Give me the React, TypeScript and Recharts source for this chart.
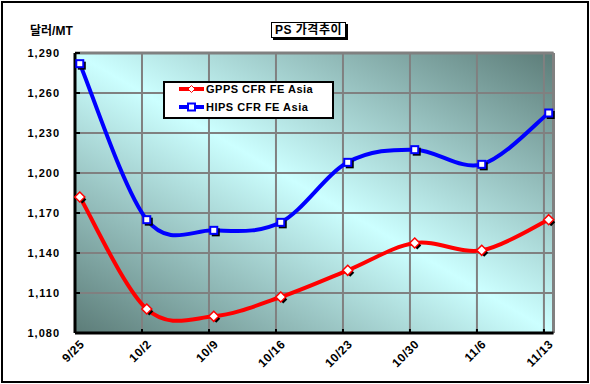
import React from 'react';
import { LineChart, Line, XAxis, YAxis, CartesianGrid, Legend, ReferenceLine } from 'recharts';

const categories = ['9/25', '10/2', '10/9', '10/16', '10/23', '10/30', '11/6', '11/13'];
const gppsValues = [1182, 1098, 1092.5, 1107, 1127, 1147.5, 1142, 1165];
const hipsValues = [1282, 1165, 1157, 1163, 1208, 1217.5, 1206.5, 1245];
const yTicks = [1080, 1110, 1140, 1170, 1200, 1230, 1260, 1290];
const seriesNames = ['GPPS CFR FE Asia', 'HIPS CFR FE Asia'];
const titleText = 'PS 가격추이';
const unitText = '달러/MT';

const FONT = '"Liberation Sans", Arial, "Noto Sans CJK KR", sans-serif';
const STEP = 7; // days between categories on the date axis
const data = categories.map((c, i) => ({
  day: i * STEP + 0.5,
  label: c,
  gpps: gppsValues[i],
  hips: hipsValues[i],
}));
const xTicks = categories.map((_, i) => i * STEP);

// Excel-like smoothing (uniform Catmull-Rom as cubic Bezier)
const excelCurve = (context: any) => {
  let pts: number[][] = [];
  return {
    areaStart() {},
    areaEnd() {},
    lineStart() {
      pts = [];
    },
    lineEnd() {
      const n = pts.length;
      if (n === 0) return;
      context.moveTo(pts[0][0], pts[0][1]);
      for (let i = 0; i < n - 1; i++) {
        const p0 = pts[Math.max(0, i - 1)];
        const p1 = pts[i];
        const p2 = pts[i + 1];
        const p3 = pts[Math.min(n - 1, i + 2)];
        context.bezierCurveTo(
          p1[0] + (p2[0] - p0[0]) / 6,
          p1[1] + (p2[1] - p0[1]) / 6,
          p2[0] - (p3[0] - p1[0]) / 6,
          p2[1] - (p3[1] - p1[1]) / 6,
          p2[0],
          p2[1]
        );
      }
    },
    point(x: number, y: number) {
      pts.push([+x, +y]);
    },
  };
};

const SquareDot = (props: any) => {
  const { cx, cy, index } = props;
  if (cx == null || cy == null) return null;
  return (
    <g key={`sq-${index}`}>
      <rect x={cx - 2} y={cy - 2} width={8} height={8} fill="#000" />
      <rect x={cx - 3.5} y={cy - 3.5} width={7} height={7} fill="#fff" stroke="#0000FF" strokeWidth={2} />
    </g>
  );
};

const DiamondDot = (props: any) => {
  const { cx, cy, index } = props;
  if (cx == null || cy == null) return null;
  const d = (x: number, y: number, r: number) => `M${x},${y - r}L${x + r},${y}L${x},${y + r}L${x - r},${y}Z`;
  return (
    <g key={`dm-${index}`}>
      <path d={d(cx + 2.5, cy + 2.5, 4)} fill="#000" />
      <path d={d(cx, cy, 5)} fill="#fff" stroke="#FF0000" strokeWidth={1.5} />
    </g>
  );
};

const XTick = (props: any) => {
  const { x, y, payload } = props;
  const idx = Math.round(payload.value / STEP);
  const ax = x + 10;
  const ay = y + 12;
  return (
    <text
      x={ax}
      y={ay}
      transform={`rotate(-45 ${ax} ${ay})`}
      textAnchor="end"
      fontSize={12}
      fontWeight="bold"
      fontFamily={FONT}
      fill="#000"
      letterSpacing={0.5}
    >
      {categories[idx]}
    </text>
  );
};

const LegendContent = (props: any) => {
  const payload = props.payload || [];
  return (
    <div
      style={{
        position: 'relative',
        width: 171,
        height: 38,
        boxSizing: 'border-box',
        border: '2px solid #000',
        background: '#fff',
      }}
    >
      {payload.map((entry: any, i: number) => {
        const isHips = entry.dataKey === 'hips';
        const color = entry.color;
        return (
          <div
            key={entry.value}
            style={{
              position: 'absolute',
              left: 14,
              top: -3.4 + i * 18.4,
              height: 18,
              display: 'flex',
              alignItems: 'center',
              whiteSpace: 'nowrap',
            }}
          >
            <svg width={25} height={12} style={{ display: 'block' }}>
              <line x1={0} y1={6} x2={25} y2={6} stroke={color} strokeWidth={4} />
              {isHips ? (
                <rect x={9} y={2.5} width={7} height={7} fill="#fff" stroke={color} strokeWidth={2} />
              ) : (
                <path d="M12.5,2.5L16,6L12.5,9.5L9,6Z" fill="#fff" stroke={color} strokeWidth={1} />
              )}
            </svg>
            <span
              style={{
                marginLeft: 2,
                fontSize: 11,
                fontWeight: 'bold',
                fontFamily: FONT,
                letterSpacing: 0.5,
                color: '#000',
                lineHeight: '18px',
              }}
            >
              {entry.value}
            </span>
          </div>
        );
      })}
    </div>
  );
};

export default function App() {
  return (
    <div style={{ position: 'absolute', left: 0, top: 0, width: 590, height: 384, background: '#fff' }}>
      <LineChart width={590} height={384} data={data} margin={{ top: 53, right: 36.5, bottom: 6, left: 0 }}>
        <defs>
          <linearGradient id="plotBg" x1="0" y1="1" x2="1" y2="0">
            <stop offset="0" stopColor="#5C7C78" />
            <stop offset="0.5" stopColor="#CCFFFF" />
            <stop offset="1" stopColor="#5C7C78" />
          </linearGradient>
        </defs>
        <CartesianGrid stroke="#808080" strokeWidth={2} fill="url(#plotBg)" fillOpacity={1} />
        <ReferenceLine y={1290} stroke="#808080" strokeWidth={3} />
        <ReferenceLine x={50} stroke="#808080" strokeWidth={3} />
        <XAxis
          dataKey="day"
          type="number"
          domain={[0, 50]}
          ticks={xTicks}
          interval={0}
          height={45}
          axisLine={{ stroke: '#000', strokeWidth: 3 }}
          tickLine={{ stroke: '#000', strokeWidth: 2 }}
          tickSize={-4}
          tickMargin={4}
          tick={<XTick />}
        />
        <YAxis
          type="number"
          domain={[1080, 1290]}
          ticks={yTicks}
          interval={0}
          width={75}
          axisLine={{ stroke: '#000', strokeWidth: 3 }}
          tickLine={{ stroke: '#000', strokeWidth: 2 }}
          tickSize={-5}
          tickMargin={20}
          tickFormatter={(v: number) => v.toLocaleString('en-US')}
          tick={{ fontSize: 11, fontWeight: 'bold', fill: '#000', fontFamily: FONT, letterSpacing: 1 }}
        />
        <Line
          dataKey="gpps"
          name={seriesNames[0]}
          type={excelCurve as any}
          stroke="#FF0000"
          strokeWidth={4}
          dot={<DiamondDot />}
          activeDot={false}
          isAnimationActive={false}
        />
        <Line
          dataKey="hips"
          name={seriesNames[1]}
          type={excelCurve as any}
          stroke="#0000FF"
          strokeWidth={4}
          dot={<SquareDot />}
          activeDot={false}
          isAnimationActive={false}
        />
        <Legend
          layout="vertical"
          align="center"
          verticalAlign="middle"
          content={<LegendContent />}
          wrapperStyle={{ left: 163, top: 81, width: 171, height: 38 }}
        />
      </LineChart>
      <div
        style={{
          position: 'absolute',
          left: 30,
          top: 23,
          fontSize: 12,
          fontWeight: 'bold',
          fontFamily: FONT,
          lineHeight: '16px',
          color: '#000',
          whiteSpace: 'nowrap',
        }}
      >
        {unitText}
      </div>
      <div
        style={{
          position: 'absolute',
          left: 271,
          top: 22,
          width: 75,
          height: 16,
          boxSizing: 'border-box',
          border: '1px solid #000',
          boxShadow: '2px 2px 0 #000',
          background: '#fff',
          fontSize: 12,
          fontWeight: 'bold',
          fontFamily: FONT,
          lineHeight: '14px',
          textAlign: 'center',
          letterSpacing: 0.5,
          whiteSpace: 'nowrap',
          color: '#000',
        }}
      >
        {titleText}
      </div>
      <div
        style={{
          position: 'absolute',
          left: 1,
          top: 1,
          width: 588,
          height: 382,
          boxSizing: 'border-box',
          border: '2px solid #000',
          pointerEvents: 'none',
        }}
      />
    </div>
  );
}
